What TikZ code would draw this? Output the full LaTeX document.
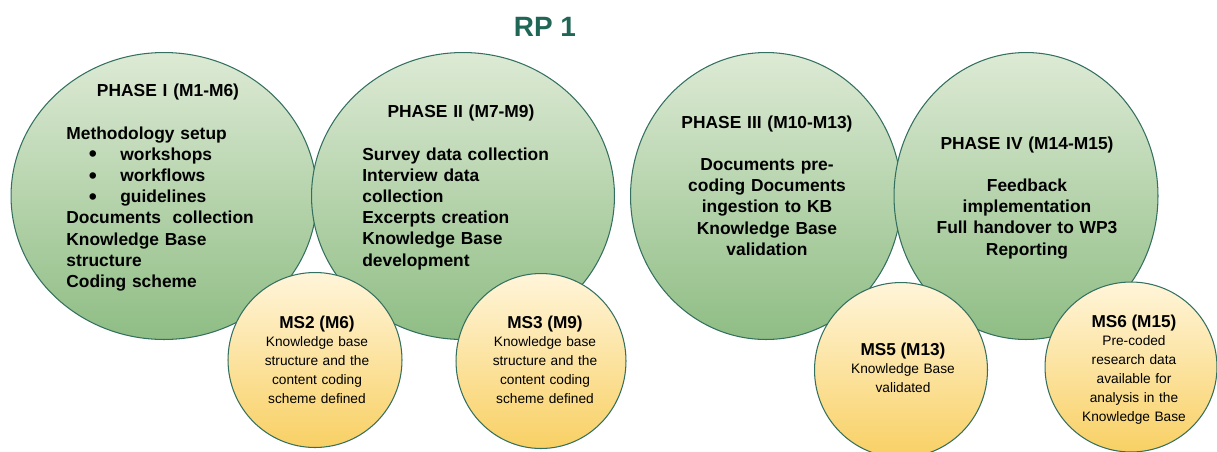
\documentclass[tikz,border=0pt]{standalone}
\usepackage{fontspec}
\setmainfont{Liberation Sans}
\usepackage {tikz}
\usetikzlibrary {positioning}
\usetikzlibrary{shapes.geometric}
\definecolor{rpteal}{RGB}{32,102,86}
\definecolor{rimteal}{RGB}{52,112,96}
\definecolor{greentop}{RGB}{221,234,213}
\definecolor{greenbot}{RGB}{143,189,132}
\definecolor{yellowtop}{RGB}{255,245,218}
\definecolor{yellowbot}{RGB}{248,208,100}
\newcommand{\phasefont}{\fontsize{9.9}{12.07}\selectfont\bfseries}
\newcommand{\msfont}{\fontsize{7.8}{10.77}\selectfont}
\newcommand{\mstitle}[1]{{\fontsize{9.8}{10.77}\selectfont\bfseries #1}}
\newcommand{\bul}{\hspace*{0.45cm}\makebox[0.63cm][l]{\raisebox{-0.9pt}{\fontsize{13}{12}\selectfont\textbullet}}}

\begin{document}
\begin{tikzpicture}[x=0.02cm,y=-0.02cm,
    phase/.style={ellipse, draw=rimteal, line width=0.6pt, inner sep=0pt,
      top color=greentop, bottom color=greenbot, minimum height=5.74cm},
    mstone/.style={ellipse, draw=rimteal, line width=0.6pt, inner sep=0pt,
      top color=yellowtop, bottom color=yellowbot, minimum height=3.5cm},
    phasetxt/.style={inner sep=0pt, font=\phasefont, text width=6cm, align=center, anchor=base},
    phaselist/.style={inner sep=0pt, font=\phasefont, text width=5.2cm, align=left, anchor=base west},
    mstonetxt/.style={inner sep=0pt, font=\msfont, text width=3.3cm, align=center, anchor=base}]
    \useasboundingbox (0,0) rectangle (1217,451);
    \node[font=\fontsize{15.9}{18}\selectfont\bfseries, text=rpteal] (rp) at (545,27) {RP 1};
    % the four phases
    \node[phase, minimum width=6.12cm] (ph1) at (164,196) {};
    \node[phase, minimum width=6.06cm] (ph2) at (463,196) {};
    \node[phase, minimum width=5.42cm] (ph3) at (766,196) {};
    \node[phase, minimum width=5.28cm] (ph4) at (1026,196) {};
    \node[phasetxt] (ph1head) at (168,96) {PHASE I (M1-M6)};
    \node[phaselist] (ph1body) at (66,139) {Methodology setup\\
      \bul workshops\\ \bul workflows\\ \bul guidelines\\
      Documents \ collection\\ Knowledge Base\\ structure\\ Coding scheme};
    \node[phasetxt] (ph2head) at (461,117) {PHASE II (M7-M9)};
    \node[phaselist] (ph2body) at (362,160) {Survey data collection\\ Interview data\\
      collection\\ Excerpts creation\\ Knowledge Base\\ development};
    \node[phasetxt] (ph3txt) at (767,128) {PHASE III (M10-M13)\\[12.07pt]
      Documents pre-\\ coding Documents\\ ingestion to KB\\ Knowledge Base\\ validation};
    \node[phasetxt] (ph4txt) at (1027,149) {PHASE IV (M14-M15)\\[12.07pt]
      Feedback\\ implementation\\ Full handover to WP3\\ Reporting};
    % milestones
    \node[mstone, minimum width=3.48cm] (ms2) at (315,360) {};
    \node[mstone, minimum width=3.4cm] (ms3) at (541,361) {};
    \node[mstone, minimum width=3.46cm] (ms5) at (901,370) {};
    \node[mstone, minimum width=3.44cm, minimum height=3.4cm] (ms6) at (1131,367) {};
    \node[mstonetxt] (ms2txt) at (317,328) {\mstitle{MS2 (M6)}\\ Knowledge base\\
      structure and the\\ content coding\\ scheme defined};
    \node[mstonetxt] (ms3txt) at (545,328) {\mstitle{MS3 (M9)}\\ Knowledge base\\
      structure and the\\ content coding\\ scheme defined};
    \node[mstonetxt] (ms5txt) at (903,355) {\mstitle{MS5 (M13)}\\ Knowledge Base\\ validated};
    \node[mstonetxt] (ms6txt) at (1134,327) {\mstitle{MS6 (M15)}\\ Pre-coded\\
      research data\\ available for\\ analysis in the\\ Knowledge Base};
\end{tikzpicture}
\end{document}
